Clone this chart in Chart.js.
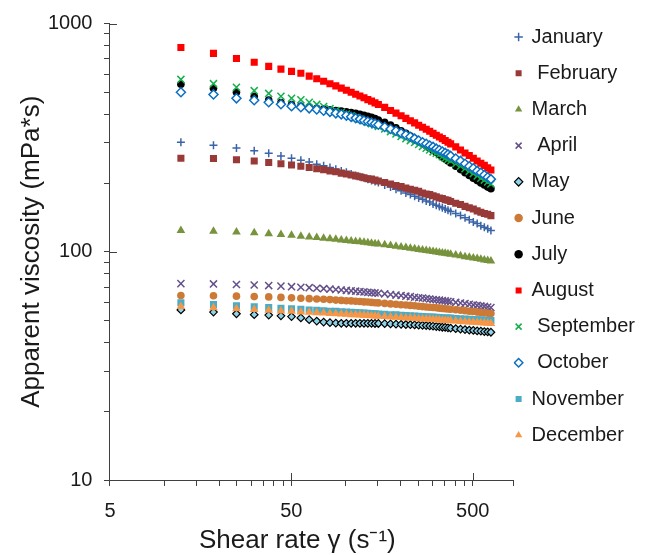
<!DOCTYPE html>
<html>
<head>
<meta charset="utf-8">
<script src="https://cdn.jsdelivr.net/npm/chart.js@4.4.1/dist/chart.umd.min.js"></script>
<style>
  html, body { margin: 0; padding: 0; background: #ffffff; }
</style>
</head>
<body>
<canvas id="viscChart" width="648" height="555"></canvas>
<script>
// shear rate of the measured points (1/s)
var shearRate = [12.3, 18.6, 24.9, 31.2, 37.5, 43.8, 50.1, 56.4, 62.7, 69.0, 75.3, 81.6, 87.9, 94.2, 100.5, 106.8, 113.1, 119.4, 125.7, 132.0, 138.3, 144.6, 150.9,
  163.5, 176.1, 188.7, 201.3, 213.9, 226.5, 239.1, 251.7, 264.3, 276.9, 289.5, 302.1, 314.7, 327.3, 339.9, 352.5, 365.1, 377.7,
  402.9, 428.1, 453.3, 478.5, 503.7, 528.9, 554.1, 579.3, 604.5, 629.7];

// apparent viscosity (mPa*s), one list per month
var january = [302, 293, 285, 277, 270, 263, 257, 252, 247, 242, 238, 234, 230, 226, 223, 219, 216, 213, 211, 208, 205, 203, 201,
  196, 192, 188, 185, 181, 178, 175, 172, 170, 167, 165, 162, 160, 158, 156, 154, 152, 150,
  147, 144, 141, 138, 135, 133, 130, 128, 126, 124];
var february = [257, 256, 253, 250, 246, 243, 240, 237, 234, 231, 229, 226, 224, 221, 219, 217, 215, 213, 211, 209, 208, 206, 204,
  201, 198, 195, 193, 190, 188, 186, 184, 181, 179, 178, 176, 174, 172, 171, 169, 168, 166,
  163, 161, 158, 156, 154, 151, 149, 147, 146, 144];
var march = [124, 123, 122, 121, 120, 119, 118, 117, 116, 115.4, 114.7, 114, 113.3, 112.7, 112.1, 111.5, 111, 110.5, 110, 109.5, 109, 108.5, 108.1,
  107.2, 106.4, 105.7, 105, 104.3, 103.6, 103, 102.4, 101.9, 101.3, 100.8, 100.3, 99.8, 99.3, 98.8, 98.4, 98, 97.5,
  96.7, 96, 95.2, 94.6, 93.9, 93.3, 92.7, 92.1, 91.6, 91];
var april = [72.5, 72.3, 71.9, 71.5, 71.1, 70.7, 70.3, 69.9, 69.6, 69.2, 68.9, 68.6, 68.3, 68.0, 67.7, 67.4, 67.2, 66.9, 66.7, 66.4, 66.2, 66.0, 65.8,
  65.4, 65.0, 64.6, 64.3, 63.9, 63.6, 63.2, 62.9, 62.7, 62.4, 62.1, 61.8, 61.6, 61.4, 61.1, 60.9, 60.7, 60.4,
  60.0, 59.6, 59.3, 58.9, 58.5, 58.2, 57.9, 57.6, 57.3, 57.0];
var may = [55.6, 54.4, 53.5, 53.0, 52.8, 52.4, 52.0, 51.3, 50.4, 49.7, 49.2, 48.9, 48.7, 48.6, 48.6, 48.6, 48.6, 48.6, 48.6, 48.6, 48.6, 48.5, 48.5,
  48.4, 48.3, 48.2, 48.1, 48.0, 47.9, 47.8, 47.7, 47.6, 47.5, 47.3, 47.2, 47.0, 46.9, 46.7, 46.6, 46.4, 46.3,
  46.0, 45.8, 45.6, 45.4, 45.2, 45.0, 44.9, 44.7, 44.6, 44.4];
var june = [64.3, 64.2, 63.9, 63.6, 63.4, 63.1, 62.8, 62.6, 62.3, 62.1, 61.9, 61.7, 61.4, 61.2, 61.0, 60.9, 60.7, 60.5, 60.3, 60.2, 60.0, 59.8, 59.7,
  59.4, 59.1, 58.9, 58.6, 58.4, 58.2, 58.0, 57.7, 57.5, 57.3, 57.1, 57.0, 56.8, 56.6, 56.4, 56.3, 56.1, 56.0,
  55.7, 55.4, 55.2, 54.9, 54.7, 54.4, 54.2, 54.0, 53.8, 53.6];
var july = [542, 520, 500, 480, 462, 450, 441, 434, 429, 425, 422, 419, 416, 413, 410, 407, 404, 400, 396, 392, 388, 383, 378,
  369, 359, 349, 339, 330, 321, 313, 305, 298, 291, 284, 278, 272, 266, 260, 255, 250, 245,
  237, 229, 222, 216, 210, 205, 200, 196, 192, 189];
var august = [785, 740, 703, 676, 649, 631, 617, 605, 588, 573, 558, 545, 533, 521, 510, 500, 490, 481, 473, 464, 457, 449, 442,
  429, 416, 405, 394, 384, 375, 367, 358, 351, 344, 337, 330, 324, 318, 313, 307, 302, 297,
  288, 279, 271, 264, 257, 250, 244, 239, 233, 228];
var september = [569, 545, 525, 508, 494, 480, 470, 463, 452, 442, 433, 424, 416, 408, 401, 394, 387, 381, 375, 369, 364, 359, 354,
  345, 336, 328, 320, 313, 307, 301, 295, 289, 284, 279, 274, 270, 266, 261, 257, 254, 250,
  243, 237, 231, 225, 220, 215, 210, 206, 202, 198];
var october = [500, 489, 470, 461, 452, 443, 434, 430, 425, 420, 415, 410, 404, 400, 395, 390, 385, 381, 376, 372, 368, 364, 360,
  352, 345, 338, 331, 325, 319, 313, 307, 302, 297, 292, 288, 283, 279, 275, 271, 267, 263,
  256, 250, 243, 237, 232, 226, 222, 217, 212, 208];
var november = [59.8, 58.7, 58.0, 57.4, 56.9, 56.5, 56.2, 55.9, 55.6, 55.4, 55.1, 54.9, 54.8, 54.6, 54.4, 54.3, 54.1, 54.0, 53.9, 53.7, 53.6, 53.5, 53.4,
  53.2, 53.0, 52.9, 52.7, 52.6, 52.4, 52.3, 52.2, 52.0, 51.9, 51.8, 51.7, 51.6, 51.5, 51.4, 51.3, 51.3, 51.2,
  51.0, 50.9, 50.7, 50.6, 50.5, 50.4, 50.3, 50.1, 50.0, 50.0];
var december = [57.5, 56.8, 56.2, 55.8, 55.4, 55.0, 54.8, 54.5, 54.3, 54.1, 53.9, 53.7, 53.5, 53.3, 53.2, 53.0, 52.9, 52.8, 52.7, 52.5, 52.4, 52.3, 52.2,
  52.0, 51.8, 51.7, 51.5, 51.3, 51.2, 51.1, 50.9, 50.8, 50.7, 50.6, 50.5, 50.3, 50.2, 50.1, 50.0, 50.0, 49.9,
  49.7, 49.5, 49.4, 49.2, 49.1, 49.0, 48.8, 48.7, 48.6, 48.5];

// axis ticks, only some of them get a label
var xTicks = [5, 10, 15, 20, 25, 30, 35, 40, 45, 50, 100, 150, 200, 250, 300, 350, 400, 450, 500, 840];
var xLabels = [5, 50, 500];
var yTicks = [10, 20, 30, 40, 50, 60, 70, 80, 90, 100, 200, 300, 400, 500, 600, 700, 800, 900, 1000];
var yLabels = [10, 100, 1000];

var axisColor = '#404040';
var textColor = '#1a1a1a';
Chart.defaults.font.family = "'Liberation Sans', Arial, sans-serif";

function pts(vals) {
  return shearRate.map(function (x, i) { return { x: x, y: vals[i] }; });
}

function series(label, vals, style, radius, fill, stroke, width, order) {
  return {
    label: label,
    data: pts(vals),
    pointStyle: style,
    pointRadius: radius,
    pointBackgroundColor: fill,
    pointBorderColor: stroke,
    pointBorderWidth: width,
    backgroundColor: fill,
    borderColor: stroke,
    borderWidth: width,
    order: order
  };
}

// Excel draws later series on top: lower order = drawn last in Chart.js
var datasets = [
  series('January', january, 'cross', 4, '#3b63a7', '#3b63a7', 1.5, 12),
  series(' February', february, 'rect', 5, '#983a38', '#983a38', 0, 11),
  series('March', march, 'triangle', 5, '#77933c', '#77933c', 0, 10),
  series(' April', april, 'crossRot', 5, '#64508a', '#64508a', 1.5, 9),
  series('May', may, 'rectRot', 3.8, '#8fd3e8', '#000000', 1.2, 8),
  series('June', june, 'circle', 3.8, '#cc7a36', '#cc7a36', 0, 7),
  series('July', july, 'circle', 3.8, '#000000', '#000000', 0, 6),
  series('August', august, 'rect', 5, '#ff0000', '#ff0000', 0, 5),
  series(' September', september, 'crossRot', 5, '#14b04c', '#14b04c', 1.5, 4),
  series(' October', october, 'rectRot', 4.5, '#ffffff', '#0a6fc2', 1.5, 3),
  series('November', november, 'rect', 5, '#4bacc6', '#4bacc6', 0, 2),
  series('December', december, 'triangle', 5, '#f79646', '#f79646', 0, 1)
];

// inner half of the major ticks (they cross the axis line)
var crossTicks = {
  id: 'crossTicks',
  afterDraw: function (chart) {
    var ctx = chart.ctx, area = chart.chartArea;
    var xs = chart.scales.x, ys = chart.scales.y;
    ctx.save();
    ctx.strokeStyle = axisColor;
    ctx.lineWidth = 1;
    ctx.beginPath();
    [50, 500].forEach(function (v) {
      var px = Math.round(xs.getPixelForValue(v)) + 0.5;
      ctx.moveTo(px, area.bottom);
      ctx.lineTo(px, area.bottom - 7);
    });
    [100, 1000].forEach(function (v) {
      var py = Math.round(ys.getPixelForValue(v)) + 0.5;
      ctx.moveTo(area.left, py);
      ctx.lineTo(area.left + 7, py);
    });
    ctx.stroke();
    ctx.restore();
  }
};

var ctx = document.getElementById('viscChart');
var chart = new Chart(ctx, {
  type: 'scatter',
  data: { datasets: datasets },
  options: {
    responsive: false,
    animation: false,
    events: [],
    layout: { padding: { top: 10, left: 10, right: 3, bottom: 0 } },
    scales: {
      x: {
        type: 'logarithmic',
        min: 5,
        max: 840,
        afterBuildTicks: function (scale) {
          scale.ticks = xTicks.map(function (v) { return { value: v }; });
        },
        ticks: {
          autoSkip: false,
          maxRotation: 0,
          padding: 13,
          color: textColor,
          font: { size: 20 },
          callback: function (v) { return xLabels.indexOf(v) >= 0 ? String(v) : ''; }
        },
        grid: { drawOnChartArea: false, drawTicks: true, tickLength: 6, color: axisColor },
        border: { color: axisColor, width: 1 },
        title: {
          display: true,
          // trailing spaces move the title a little left of the plot centre, as in the original
          text: 'Shear rate γ (s⁻¹)    ',
          color: textColor,
          font: { size: 26, lineHeight: 1 },
          padding: { top: -8, bottom: 1 }
        }
      },
      y: {
        type: 'logarithmic',
        min: 10,
        max: 1000,
        afterBuildTicks: function (scale) {
          scale.ticks = yTicks.map(function (v) { return { value: v }; });
        },
        ticks: {
          autoSkip: false,
          padding: 11.5,
          color: textColor,
          font: { size: 20 },
          callback: function (v) { return yLabels.indexOf(v) >= 0 ? String(v) : ''; }
        },
        grid: { drawOnChartArea: false, drawTicks: true, tickLength: 6, color: axisColor },
        border: { color: axisColor, width: 1 },
        title: {
          display: true,
          text: 'Apparent viscosity (mPa*s)',
          color: textColor,
          font: { size: 26, lineHeight: 1 },
          padding: { top: 9, bottom: -8.5 }
        }
      }
    },
    plugins: {
      tooltip: { enabled: false },
      legend: {
        position: 'right',
        align: 'start',
        title: { display: true, text: '', padding: 0, font: { size: 15, lineHeight: '15px' } },
        labels: {
          usePointStyle: true,
          boxWidth: 6,
          boxHeight: 6,
          padding: 2,
          color: textColor,
          font: { size: 20, lineHeight: '34.2px' },
          generateLabels: function (chart) {
            var items = Chart.defaults.plugins.legend.labels.generateLabels(chart);
            items.sort(function (a, b) { return a.datasetIndex - b.datasetIndex; });
            items.forEach(function (it) { it.text = [it.text]; });
            return items;
          }
        }
      }
    }
  },
  plugins: [crossTicks]
});
</script>
</body>
</html>
